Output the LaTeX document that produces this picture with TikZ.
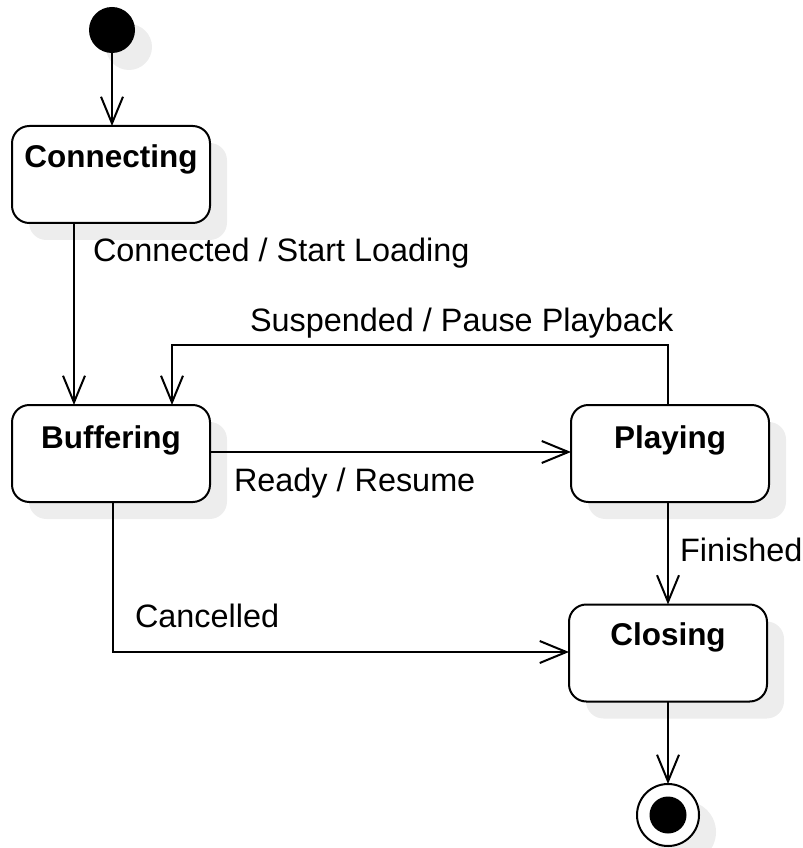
\documentclass[tikz,border=0pt]{standalone}
\usepackage{fontspec}
\setmainfont{Liberation Sans}
\usetikzlibrary{arrows.meta,shadows}
\begin{document}
\begin{tikzpicture}[x=0.75pt,y=-0.75pt,
  every node/.style={inner sep=0pt, outer sep=0pt},
  sh/.style={drop shadow={shadow xshift=12.75pt,shadow yshift=-12.75pt,fill=black!7,opacity=1}},
  state/.style={draw, line width=1.5pt, rounded corners=13pt, fill=white,
    minimum width=148.5pt, minimum height=72.75pt, sh},
  title/.style={font=\fontsize{23.6}{28}\selectfont\bfseries, anchor=base},
  lbl/.style={font=\fontsize{24.3}{28}\selectfont, anchor=base west},
  arr/.style={line width=1.5pt, -{Straight Barb[length=20pt,width=16.5pt,line width=1.5pt]}},
]
\useasboundingbox (0,0) rectangle (802,848);

% pseudo states
\node[circle, fill=black, minimum size=34.5pt, sh] (start) at (112,30) {};
\node[circle, draw, line width=1.5pt, fill=white, minimum size=46.5pt, sh] (end) at (668,815) {};
\node[circle, fill=black, minimum size=27.75pt] (endin) at (end) {};

% states
\node[state] (conn)  at (111,174.5) {};
\node[state] (buf)   at (111,453.5) {};
\node[state] (play)  at (670,453.5) {};
\node[state] (close) at (668,653) {};

\node[title] (conn-t)  at (111,168) {Connecting};
\node[title] (buf-t)   at (111,448) {Buffering};
\node[title] (play-t)  at (670,448) {Playing};
\node[title] (close-t) at (668,645) {Closing};

% routing helpers
\coordinate (xc) at (74,0);
\coordinate (ptop) at (668,345);
\coordinate (btop) at (172,345);
\coordinate (ry) at (0,452);
\coordinate (cx) at (113,0);
\coordinate (cy) at (0,652);

% transitions
\draw[arr] (start) -- (start |- conn.north);
\draw[arr] (conn.south -| xc) -- (buf.north -| xc);
\draw[arr] (play.north -| ptop) -- (ptop) -- (btop) -- (buf.north -| btop);
\draw[arr] (buf.east |- ry) -- (play.west |- ry);
\draw[arr] (play.south -| ptop) -- (close.north -| ptop);
\draw[arr] (buf.south -| cx) |- (close.west |- cy);
\draw[arr] (close.south -| end) -- (end.north);

% transition labels
\node[lbl] (l1) at (93,262)  {Connected / Start Loading};
\node[lbl] (l2) at (250,331) {Suspended / Pause Playback};
\node[lbl] (l3) at (234,491) {Ready / Resume};
\node[lbl] (l4) at (680,561) {Finished};
\node[lbl] (l5) at (135,627) {Cancelled};
\end{tikzpicture}
\end{document}
